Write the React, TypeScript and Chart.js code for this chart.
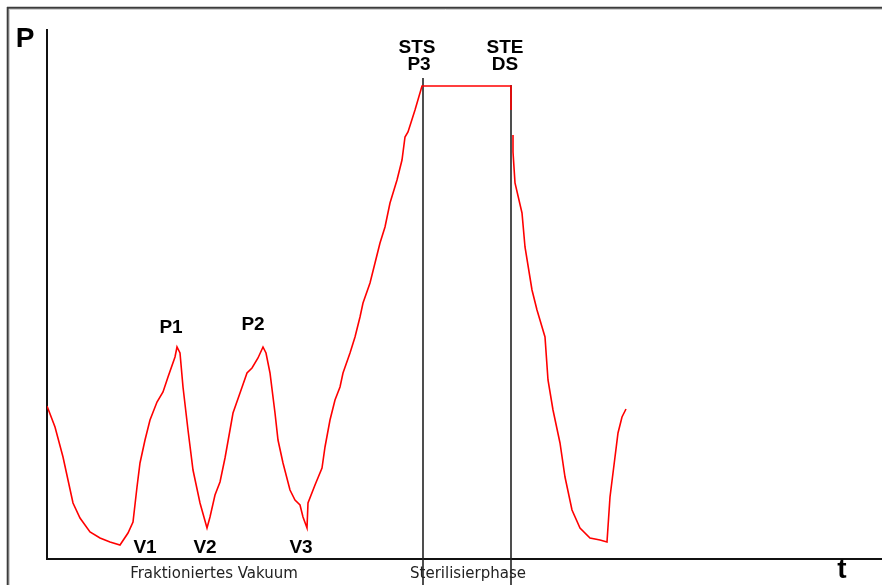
import React, { useEffect, useRef } from "react";
import { Chart, registerables } from "chart.js";

Chart.register(...registerables);

// Time (t) and pressure (P) readings of the sterilization cycle
const timeValues = [
  0, 8, 16, 21, 26, 33, 43, 53, 63, 73,
  81, 86, 90, 93, 98, 103, 110, 116, 121, 128,
  130, 133, 136, 141, 146, 153, 160, 163, 168, 173,
  178, 183, 186, 193, 200, 205, 211, 216, 219, 223,
  228, 231, 236, 243, 248, 253, 256, 260, 261, 268,
  275, 278, 283, 288, 293, 296, 303, 308, 313, 316,
  323, 328, 333, 338, 343, 350, 355, 358, 361, 368,
  375, 376, 464, 464, 464.5, 466, 466, 468, 475, 478,
  485, 490, 498, 501, 506, 513, 518, 525, 533, 543,
  553, 560, 563, 568, 571, 575, 579,
];
const pressureValues: (number | null)[] = [
  153, 132, 102, 79, 56, 41, 27, 21, 17, 14,
  26, 37, 72, 96, 119, 139, 157, 167, 182, 202,
  212, 206, 172, 129, 89, 56, 31, 42, 64, 77,
  101, 129, 146, 166, 186, 191, 201, 212, 206, 186,
  146, 119, 96, 69, 59, 54, 42, 31, 56, 74,
  91, 112, 139, 159, 172, 186, 206, 222, 242, 256,
  276, 296, 316, 332, 356, 379, 399, 422, 427, 449,
  473, 473, 473, 449, null, 424, 407, 376, 346, 312,
  269, 249, 222, 179, 149, 116, 82, 49, 31, 21,
  19, 17, 62, 102, 126, 142, 150,
];

// Phase markers (start / end of sterilization)
const markerTimes = [376, 464];
const markerTops = [481, 474];

// Point labels
const pointLabels = ["P1", "P2", "STS", "P3", "STE", "DS", "V1", "V2", "V3"];
const pointLabelTimes = [124, 206, 370, 372, 458, 458, 98, 158, 254];
const pointLabelPressures = [231, 234, 511, 494, 511, 494, 11.5, 11.5, 11.5];

// Phase labels below the time axis
const phaseLabels = ["Fraktioniertes Vakuum", "Sterilisierphase"];
const phaseLabelTimes = [167, 421];
const phaseLabelPressure = -15;

const axisLabelP = "P";
const axisLabelT = "t";

export default function App() {
  const canvasRef = useRef<HTMLCanvasElement | null>(null);

  useEffect(() => {
    const canvas = canvasRef.current;
    if (!canvas) return;

    const decorPlugin = {
      id: "decor",
      beforeDatasetsDraw(chart: any) {
        const { ctx, chartArea, scales } = chart;
        const { left, right, top, bottom } = chartArea;
        ctx.save();
        // outer frame (top and left)
        ctx.strokeStyle = "#3c3c3c";
        ctx.lineWidth = 2;
        ctx.beginPath();
        ctx.moveTo(7, 7.7);
        ctx.lineTo(chart.width, 7.7);
        ctx.moveTo(7.7, 7);
        ctx.lineTo(7.7, chart.height);
        ctx.stroke();
        ctx.strokeStyle = "#d0d0d0";
        ctx.lineWidth = 1;
        ctx.beginPath();
        ctx.moveTo(9, 9.5);
        ctx.lineTo(chart.width, 9.5);
        ctx.moveTo(9.5, 9);
        ctx.lineTo(9.5, chart.height);
        ctx.stroke();
        // axes
        ctx.strokeStyle = "#111";
        ctx.lineWidth = 2;
        ctx.beginPath();
        ctx.moveTo(left, top);
        ctx.lineTo(left, bottom);
        ctx.lineTo(right, bottom);
        ctx.stroke();
        // phase markers
        ctx.lineWidth = 1.6;
        ctx.strokeStyle = "#222";
        markerTimes.forEach((t, i) => {
          const x = scales.x.getPixelForValue(t);
          const y = scales.y.getPixelForValue(markerTops[i]);
          ctx.beginPath();
          ctx.moveTo(x, y);
          ctx.lineTo(x, chart.height);
          ctx.stroke();
        });
        ctx.restore();
      },
      afterDatasetsDraw(chart: any) {
        const { ctx, scales } = chart;
        ctx.save();
        ctx.textAlign = "center";
        ctx.textBaseline = "middle";
        ctx.fillStyle = "#000";
        ctx.font = "bold 19px 'Liberation Sans', Arial, sans-serif";
        pointLabels.forEach((txt, i) => {
          ctx.fillText(
            txt,
            scales.x.getPixelForValue(pointLabelTimes[i]),
            scales.y.getPixelForValue(pointLabelPressures[i])
          );
        });
        ctx.font = "15px 'DejaVu Sans', sans-serif";
        ctx.fillStyle = "#222";
        phaseLabels.forEach((txt, i) => {
          ctx.fillText(
            txt,
            scales.x.getPixelForValue(phaseLabelTimes[i]),
            scales.y.getPixelForValue(phaseLabelPressure)
          );
        });
        ctx.fillStyle = "#000";
        ctx.font = "bold 28px 'Liberation Sans', Arial, sans-serif";
        ctx.fillText(axisLabelP, scales.x.getPixelForValue(-22), scales.y.getPixelForValue(520));
        ctx.fillText(axisLabelT, scales.x.getPixelForValue(795), scales.y.getPixelForValue(-11));
        ctx.restore();
      },
    };

    const chart = new Chart(canvas, {
      type: "line",
      data: {
        datasets: [
          {
            data: timeValues.map((t, i) => ({ x: t, y: pressureValues[i] as any })),
            borderColor: "#ff0000",
            borderWidth: 1.6,
            pointRadius: 0,
            tension: 0,
            fill: false,
            spanGaps: false,
          },
        ],
      },
      options: {
        animation: false,
        responsive: false,
        devicePixelRatio: 1,
        layout: { padding: { left: 47, top: 29, right: 0, bottom: 26 } },
        plugins: { legend: { display: false }, tooltip: { enabled: false } },
        scales: {
          x: { type: "linear", min: 0, max: 835, display: false },
          y: { type: "linear", min: 0, max: 530, display: false },
        },
      },
      plugins: [decorPlugin],
    });

    return () => chart.destroy();
  }, []);

  return (
    <div
      style={{
        position: "fixed",
        left: 0,
        top: 0,
        width: 882,
        height: 585,
        background: "#fff",
      }}
    >
      <canvas ref={canvasRef} width={882} height={585} />
    </div>
  );
}
